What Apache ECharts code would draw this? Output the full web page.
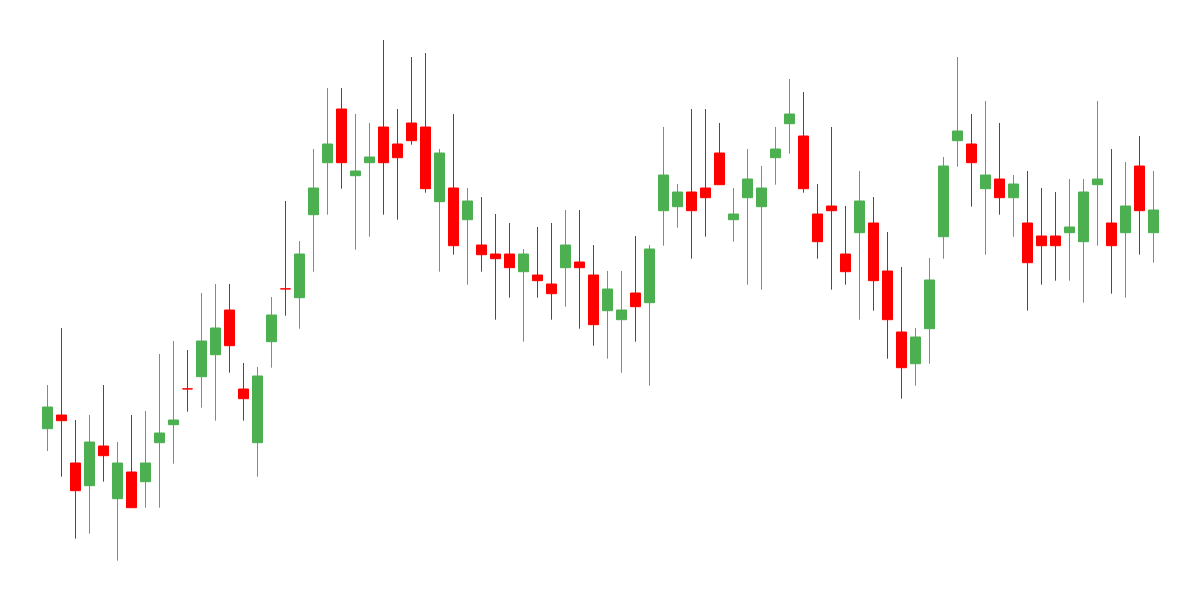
<!DOCTYPE html>
<html>
<head>
<meta charset="utf-8">
<title>Candlestick</title>
<script src="https://cdn.jsdelivr.net/npm/echarts@6/dist/echarts.min.js"></script>
<style>
  html, body { margin: 0; padding: 0; background: #fff; }
  #chart { width: 1200px; height: 600px; }
</style>
</head>
<body>
<div id="chart"></div>
<script>
// one candle per session, 80 sessions
var days = Array.from({ length: 80 }, function (_, i) { return String(i + 1) })

var opens = [
  171.3, 185, 137, 114.3, 154, 101.3, 128, 118.3, 157.3, 175.3,
  211.2, 223.3, 245.3, 290, 211, 157.3, 258.3, 311.2, 302.3, 385.3,
  437.3, 491, 424.3, 437.3, 473, 456, 477, 473, 398.3, 412,
  380.3, 355, 346, 346, 328.3, 325, 316, 332.3, 338, 325,
  289.3, 280.3, 307, 297.3, 389.3, 393.3, 408, 412, 447, 380.3,
  402.3, 393.3, 442.3, 476.3, 464, 386, 394, 346, 367.3, 377,
  329, 268, 236.3, 271.3, 363.3, 459.3, 456, 411.3, 421, 402.3,
  377, 364, 364, 367.3, 358.3, 415.3, 377, 367.3, 434, 367.3
]
var closes = [
  193, 179.3, 109.3, 158, 144.3, 137, 92.3, 137, 167, 180,
  211, 259, 272, 254.3, 201.3, 224, 285, 311, 346, 412,
  456, 437.3, 429, 443, 437.3, 442.3, 459.3, 411.3, 447, 354.3,
  399, 345.3, 341.3, 332.3, 346, 319.3, 306.3, 355, 332.3, 275.3,
  311, 290, 293.3, 351, 425, 408, 389.3, 402.3, 415.3, 386,
  421, 412, 451, 486, 411.3, 358.3, 389.3, 328.3, 399, 319.3,
  280.3, 232.3, 263, 320, 434, 469, 437.3, 425, 402.3, 416,
  337.3, 354.3, 354.3, 373, 408, 421, 354.3, 394, 389.3, 390
]
var lows = [
  149, 123.3, 61.3, 66.3, 118.3, 39.3, 92.3, 92.3, 92.3, 136.3,
  188.3, 192.3, 179.3, 227.3, 179.3, 123.3, 232.3, 284.3, 271.3, 328.3,
  385.3, 411.3, 350.3, 363.3, 385.3, 380.3, 455.3, 407.3, 328.3, 345.3,
  315.3, 328.3, 280.3, 302.3, 258.3, 302.3, 280.3, 293.3, 271.3, 254.3,
  241.3, 227.3, 258.3, 214.3, 354.3, 372.3, 341.3, 363.3, 415.3, 358.3,
  315.3, 310.3, 415.3, 446.3, 407.3, 341.3, 310.3, 315.3, 280.3, 289.3,
  241.3, 201.3, 214.3, 236.3, 341.3, 433.3, 393.3, 345.3, 385.3, 363.3,
  289.3, 315.3, 319.3, 319.3, 297.3, 354.3, 306.3, 302.3, 345.3, 337.3
]
var highs = [
  215, 272, 180, 185, 215, 158, 185, 189, 246, 259,
  250, 307, 316, 316, 237, 233, 303, 399, 359, 451,
  512, 512, 486, 477, 560, 491, 543, 547, 451, 486,
  412, 403, 386, 377, 351, 373, 377, 390, 390, 355,
  329, 329, 364, 355, 473, 416, 491, 491, 477, 412,
  451, 434, 473, 521, 508, 416, 473, 394, 429, 403,
  368, 333, 272, 342, 443, 543, 486, 499, 477, 425,
  429, 412, 408, 421, 421, 499, 451, 438, 464, 429
]

var upColor = '#4caf50'
var downColor = '#ff0000'

var chart = echarts.init(document.getElementById('chart'))

var candles = opens.map(function (o, i) {
  return [o, closes[i], lows[i], highs[i]]
})

var option = {
  animation: false,
  grid: { left: 40.5, right: 39.5, top: 0, bottom: 0 },
  xAxis: {
    type: 'category',
    data: days,
    show: false
  },
  yAxis: {
    type: 'value',
    min: 0,
    max: 600,
    show: false,
    splitLine: { show: false }
  },
  series: [
    {
      type: 'candlestick',
      data: candles,
      barWidth: 10,
      itemStyle: {
        color: upColor,
        color0: downColor,
        borderColor: upColor,
        borderColor0: downColor,
        borderWidth: 1
      }
    }
  ]
}
chart.setOption(option)
</script>
</body>
</html>
